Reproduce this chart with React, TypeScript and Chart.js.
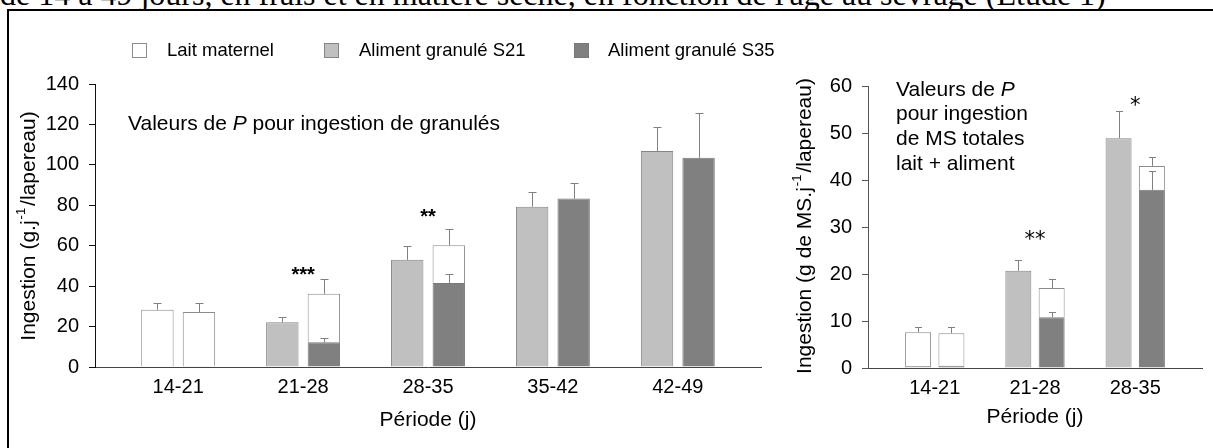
import React, { useEffect, useRef } from 'react';
import { Chart, registerables } from 'chart.js';

Chart.register(...registerables);

const FONT = "'Liberation Sans', Arial, Helvetica, sans-serif";
const SERIF = "'Liberation Serif', 'Times New Roman', serif";

// ---------- text ----------
const HEADER_TEXT = "de 14 à 49 jours, en frais et en matière sèche, en fonction de l'âge au sevrage (Etude 1)";
const LEGEND_LABELS = ['Lait maternel', 'Aliment granulé S21', 'Aliment granulé S35'];
const X_TITLE = 'Période (j)';
const Y_TITLE_LEFT = ['Ingestion (g.j', '-1', '/lapereau)'];
const Y_TITLE_RIGHT = ['Ingestion (g de MS.j', '-1', '/lapereau)'];
const NOTE_LEFT = [[['Valeurs de ', false], ['P', true], [' pour ingestion de granulés', false]]];
const NOTE_RIGHT = [
  [['Valeurs de ', false], ['P', true]],
  [['pour ingestion', false]],
  [['de MS totales', false]],
  [['lait + aliment', false]],
];

// ---------- left panel data (g/j/lapereau) ----------
const periodsLeft = ['14-21', '21-28', '28-35', '35-42', '42-49'];
const granS21Left = [0.4, 22.1, 53.0, 79.3, 106.8];
const laitS21Left = [27.9, null, null, null, null];
const granS35Left = [0.4, 12.2, 41.5, 83.3, 103.5];
const laitS35Left = [26.8, 24.0, 18.7, null, null];
const errGranS21Left = [null, 2.4, 6.8, 7.4, 12.1];
const errLaitS21Left = [3.5, null, null, null, null];
const errGranS35Left = [null, 2.0, 4.6, 7.9, 22.3];
const errLaitS35Left = [4.6, 7.3, 7.9, null, null];
const sigLeft = ['', '***', '**', '', ''];
const sigYLeft = [null, 48, 76.8, null, null];
const yTicksLeft = [0, 20, 40, 60, 80, 100, 120, 140];

// ---------- right panel data (g MS/j/lapereau) ----------
const periodsRight = ['14-21', '21-28', '28-35'];
const granS21Right = [0.4, 20.7, 48.9];
const laitS21Right = [7.2, null, null];
const granS35Right = [0.5, 10.8, 37.9];
const laitS35Right = [6.9, 6.2, 5.1];
const errGranS21Right = [null, 2.2, 5.8];
const errLaitS21Right = [1.1, null, null];
const errGranS35Right = [null, 1.2, 4.1];
const errLaitS35Right = [1.3, 2.0, 1.9];
const sigRight = ['', '**', '*'];
const sigYRight = [null, 28.4, 57.0];
const yTicksRight = [0, 10, 20, 30, 40, 50, 60];

// ---------- styles ----------
const C_LAIT = '#ffffff';
const B_LAIT = '#8c8c8c';
const C_S21 = '#c0c0c0';
const B_S21 = '#858585';
const C_S35 = '#808080';
const B_S35 = '#787878';
const ERR_COLOR = '#808080';

type Seg = [string, boolean];

function pts(arr: (number | null)[]) {
  return arr.map((v, i) => ({ x: i, y: v }));
}

function buildDatasets(g21: any[], l21: any[], g35: any[], l35: any[], eg21: any[], el21: any[], eg35: any[], el35: any[]) {
  const common = { borderWidth: 1, categoryPercentage: 0.665, barPercentage: 0.78 };
  return [
    { ...common, label: LEGEND_LABELS[1], data: pts(g21), stack: 'S21', backgroundColor: C_S21, borderColor: B_S21, errors: eg21 },
    { ...common, label: LEGEND_LABELS[0], data: pts(l21), stack: 'S21', backgroundColor: C_LAIT, borderColor: B_LAIT, errors: el21 },
    { ...common, label: LEGEND_LABELS[2], data: pts(g35), stack: 'S35', backgroundColor: C_S35, borderColor: B_S35, errors: eg35 },
    { ...common, label: LEGEND_LABELS[0], data: pts(l35), stack: 'S35', backgroundColor: C_LAIT, borderColor: B_LAIT, errors: el35 },
  ];
}

function drawRotatedTitle(ctx: CanvasRenderingContext2D, parts: string[], cx: number, cy: number, size: number) {
  ctx.save();
  ctx.translate(cx, cy);
  ctx.rotate(-Math.PI / 2);
  ctx.fillStyle = '#000';
  ctx.textBaseline = 'alphabetic';
  ctx.textAlign = 'left';
  const main = `${size}px ${FONT}`;
  const sup = `${Math.round(size * 0.6)}px ${FONT}`;
  ctx.font = main;
  const w1 = ctx.measureText(parts[0]).width;
  const w3 = ctx.measureText(parts[2]).width;
  ctx.font = sup;
  const w2 = ctx.measureText(parts[1]).width;
  const total = w1 + w2 + w3 + 3;
  let x = -total / 2;
  const base = size * 0.36;
  ctx.font = main;
  ctx.fillText(parts[0], x, base);
  x += w1 + 1;
  ctx.font = sup;
  ctx.fillText(parts[1], x, base - size * 0.45);
  x += w2 + 2;
  ctx.font = main;
  ctx.fillText(parts[2], x, base);
  ctx.restore();
}

function drawNote(ctx: CanvasRenderingContext2D, lines: Seg[][], x0: number, baselines: number[], size: number) {
  ctx.save();
  ctx.fillStyle = '#000';
  ctx.textBaseline = 'alphabetic';
  ctx.textAlign = 'left';
  lines.forEach((line, li) => {
    let x = x0;
    line.forEach(([t, it]) => {
      ctx.font = `${it ? 'italic ' : ''}${size}px ${FONT}`;
      ctx.fillText(t, x, baselines[li]);
      x += ctx.measureText(t).width;
    });
  });
  ctx.restore();
}

interface PanelSpec {
  periods: string[];
  datasets: any[];
  yTicks: number[];
  yAxisWidth: number;
  yBorderColor: string;
  padding: { left: number; right: number; top: number; bottom: number };
  yTitle: string[];
  yTitleX: number;
  yTitleY: number;
  xTitleY: number;
  note: Seg[][];
  noteX: number;
  noteBaselines: number[];
  sig: string[];
  sigY: (number | null)[];
  sigFont: string;
  sigSize: number;
  sigRise: number;
  capHalf: number;
}

function makeConfig(p: PanelSpec): any {
  const n = p.periods.length;
  const overlayPlugin = {
    id: 'overlay',
    afterDatasetsDraw(chart: any) {
      const ctx = chart.ctx as CanvasRenderingContext2D;
      const yScale = chart.scales.y;
      chart.data.datasets.forEach((ds: any, di: number) => {
        const errs = ds.errors as (number | null)[];
        if (!errs) return;
        const meta = chart.getDatasetMeta(di);
        meta.data.forEach((el: any, i: number) => {
          const e = errs[i];
          const v = ds.data[i].y;
          if (e == null || v == null) return;
          const topVal = yScale.getValueForPixel(el.y);
          const yEnd = Math.round(yScale.getPixelForValue(topVal + e)) + 0.5;
          const x = Math.round(el.x) + 0.5;
          ctx.save();
          ctx.strokeStyle = ERR_COLOR;
          ctx.lineWidth = 1;
          ctx.beginPath();
          ctx.moveTo(x, el.y);
          ctx.lineTo(x, yEnd);
          ctx.moveTo(x - p.capHalf, yEnd);
          ctx.lineTo(x + p.capHalf, yEnd);
          ctx.stroke();
          ctx.restore();
        });
      });
    },
    afterDraw(chart: any) {
      const ctx = chart.ctx as CanvasRenderingContext2D;
      const xScale = chart.scales.x;
      const yScale = chart.scales.y;
      drawRotatedTitle(ctx, p.yTitle, p.yTitleX, p.yTitleY, 21);
      ctx.save();
      ctx.fillStyle = '#000';
      ctx.font = `21px ${FONT}`;
      ctx.textAlign = 'center';
      ctx.textBaseline = 'middle';
      ctx.fillText(X_TITLE, (chart.chartArea.left + chart.chartArea.right) / 2, p.xTitleY);
      ctx.restore();
      drawNote(ctx, p.note, p.noteX, p.noteBaselines, 21);
      ctx.save();
      ctx.fillStyle = '#000';
      ctx.font = `${p.sigFont.includes('bold') ? 'bold ' : ''}${p.sigSize}px ${p.sigFont.replace('bold ', '')}`;
      ctx.textAlign = 'center';
      ctx.textBaseline = 'alphabetic';
      p.sig.forEach((s, i) => {
        const yv = p.sigY[i];
        if (!s || yv == null) return;
        const x = xScale.getPixelForValue(i);
        const y = yScale.getPixelForValue(yv) + p.sigRise * p.sigSize;
        ctx.fillText(s, x, y);
      });
      ctx.restore();
    },
  };

  return {
    type: 'bar',
    data: { datasets: p.datasets },
    options: {
      responsive: false,
      animation: false,
      events: [],
      layout: { padding: p.padding },
      plugins: { legend: { display: false }, tooltip: { enabled: false }, title: { display: false } },
      scales: {
        x: {
          type: 'linear',
          stacked: true,
          min: -0.666,
          max: n - 1 + 0.666,
          offset: false,
          afterBuildTicks: (scale: any) => {
            scale.ticks = p.periods.map((_, i) => ({ value: i }));
          },
          afterFit: (scale: any) => {
            scale.height = 40;
          },
          ticks: {
            autoSkip: false,
            maxRotation: 0,
            padding: 8,
            color: '#000',
            font: { family: FONT, size: 20 },
            callback: (v: number) => p.periods[v] ?? '',
          },
          grid: { display: false, drawTicks: false },
          border: { display: true, color: '#444', width: 1 },
        },
        y: {
          type: 'linear',
          stacked: true,
          min: p.yTicks[0],
          max: p.yTicks[p.yTicks.length - 1],
          afterBuildTicks: (scale: any) => {
            scale.ticks = p.yTicks.map((v) => ({ value: v }));
          },
          afterFit: (scale: any) => {
            scale.width = p.yAxisWidth;
          },
          ticks: {
            padding: 10,
            color: '#000',
            font: { family: FONT, size: 20 },
          },
          grid: { display: true, drawOnChartArea: false, drawTicks: true, tickLength: 6, color: p.yBorderColor },
          border: { display: true, color: p.yBorderColor, width: 1 },
        },
      },
    },
    plugins: [overlayPlugin],
  };
}

const leftSpec: PanelSpec = {
  periods: periodsLeft,
  datasets: buildDatasets(granS21Left, laitS21Left, granS35Left, laitS35Left, errGranS21Left, errLaitS21Left, errGranS35Left, errLaitS35Left),
  yTicks: yTicksLeft,
  yAxisWidth: 95,
  yBorderColor: '#111',
  padding: { left: 0, right: 24, top: 84, bottom: 41 },
  yTitle: Y_TITLE_LEFT,
  yTitleX: 27,
  yTitleY: 226,
  xTitleY: 420,
  note: NOTE_LEFT,
  noteX: 128,
  noteBaselines: [129.5],
  sig: sigLeft,
  sigY: sigYLeft,
  sigFont: `bold ${FONT}`,
  sigSize: 20,
  sigRise: 0.57,
  capHalf: 4,
};

const RIGHT_LEFT = 785;
const rightSpec: PanelSpec = {
  periods: periodsRight,
  datasets: buildDatasets(granS21Right, laitS21Right, granS35Right, laitS35Right, errGranS21Right, errLaitS21Right, errGranS35Right, errLaitS35Right),
  yTicks: yTicksRight,
  yAxisWidth: 83,
  yBorderColor: '#555',
  padding: { left: 0, right: 11, top: 86, bottom: 40 },
  yTitle: Y_TITLE_RIGHT,
  yTitleX: 18,
  yTitleY: 226,
  xTitleY: 417,
  note: NOTE_RIGHT,
  noteX: 111,
  noteBaselines: [95.7, 120.3, 144.9, 169.5],
  sig: sigRight,
  sigY: sigYRight,
  sigFont: "'DejaVu Sans', sans-serif",
  sigSize: 21,
  sigRise: 0.56,
  capHalf: 3.5,
};

const LEGEND_SWATCH = [
  { fill: C_LAIT, border: B_LAIT },
  { fill: C_S21, border: B_S21 },
  { fill: C_S35, border: B_S35 },
];
const LEGEND_SWATCH_X = [132, 324, 574];
const LEGEND_TEXT_X = [167, 359, 608];

function Panel({ spec, left, width }: { spec: PanelSpec; left: number; width: number }) {
  const ref = useRef<HTMLCanvasElement | null>(null);
  useEffect(() => {
    if (!ref.current) return;
    const chart = new Chart(ref.current, makeConfig(spec));
    return () => chart.destroy();
  }, [spec]);
  return <canvas ref={ref} width={width} height={448} style={{ position: 'absolute', left, top: 0, width, height: 448 }} />;
}

export default function App() {
  return (
    <div style={{ position: 'fixed', left: 0, top: 0, width: 1213, height: 448, overflow: 'hidden', background: '#fff' }}>
      <div
        style={{
          position: 'absolute',
          left: 0,
          top: -22,
          whiteSpace: 'nowrap',
          fontFamily: SERIF,
          fontSize: 32,
          lineHeight: '32px',
          color: '#000',
        }}
      >
        {HEADER_TEXT}
      </div>
      <div
        style={{
          position: 'absolute',
          left: 7,
          top: 9,
          width: 1240,
          height: 480,
          borderLeft: '2px solid #000',
          borderTop: '2px solid #000',
          background: '#fff',
        }}
      />
      <Panel spec={leftSpec} left={0} width={RIGHT_LEFT} />
      <Panel spec={rightSpec} left={RIGHT_LEFT} width={1213 - RIGHT_LEFT} />
      {LEGEND_LABELS.map((lab, i) => (
        <React.Fragment key={lab}>
          <div
            style={{
              position: 'absolute',
              left: LEGEND_SWATCH_X[i],
              top: 43,
              width: 13,
              height: 13,
              background: LEGEND_SWATCH[i].fill,
              border: `1.5px solid ${LEGEND_SWATCH[i].border}`,
            }}
          />
          <div
            style={{
              position: 'absolute',
              left: LEGEND_TEXT_X[i],
              top: 39,
              height: 22,
              lineHeight: '22px',
              fontFamily: FONT,
              fontSize: 18.5,
              color: '#000',
              whiteSpace: 'nowrap',
            }}
          >
            {lab}
          </div>
        </React.Fragment>
      ))}
    </div>
  );
}
